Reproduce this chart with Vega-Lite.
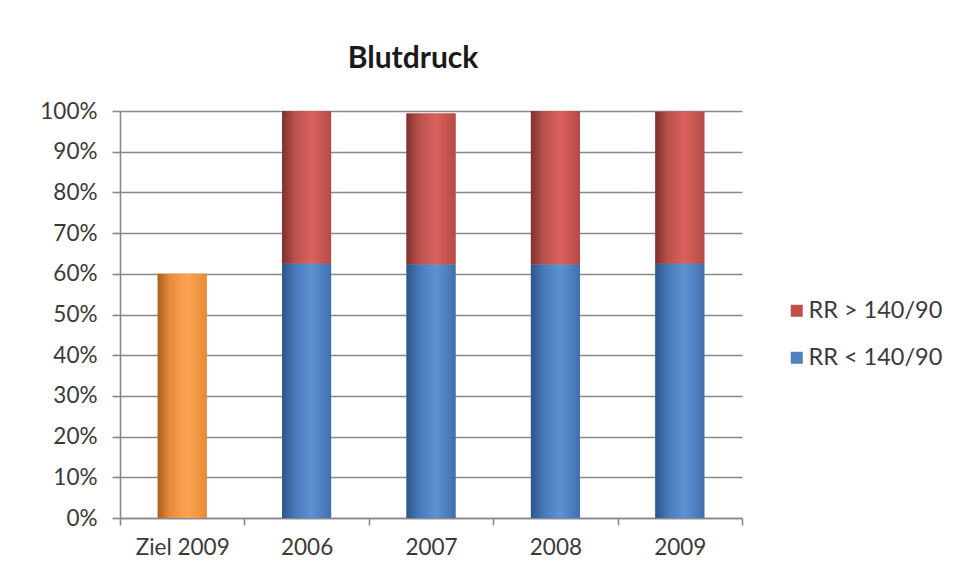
{
  "$schema": "https://vega.github.io/schema/vega-lite/v6.json",
  "width": 622,
  "height": 407,
  "autosize": {"type": "none"},
  "padding": {"left": 120, "top": 111, "right": 214, "bottom": 65},
  "background": "white",
  "title": {
    "text": "Blutdruck",
    "font": "Lato",
    "fontSize": 30,
    "fontWeight": "bold",
    "color": "#1a1a1a",
    "anchor": "middle",
    "frame": "group",
    "dx": -18,
    "offset": 26
  },
  "data": {
    "values": [
      {"cat": "Ziel 2009", "series": "Ziel", "value": 0.60, "ord": 0},
      {"cat": "2006", "series": "RR < 140/90", "value": 0.625, "ord": 1},
      {"cat": "2006", "series": "RR > 140/90", "value": 0.375, "ord": 2},
      {"cat": "2007", "series": "RR < 140/90", "value": 0.623, "ord": 1},
      {"cat": "2007", "series": "RR > 140/90", "value": 0.371, "ord": 2},
      {"cat": "2008", "series": "RR < 140/90", "value": 0.623, "ord": 1},
      {"cat": "2008", "series": "RR > 140/90", "value": 0.377, "ord": 2},
      {"cat": "2009", "series": "RR < 140/90", "value": 0.625, "ord": 1},
      {"cat": "2009", "series": "RR > 140/90", "value": 0.373, "ord": 2}
    ]
  },
  "transform": [
    {"stack": "value", "groupby": ["cat"], "sort": [{"field": "ord", "order": "ascending"}], "as": ["v0", "v1"]}
  ],
  "encoding": {
    "x": {
      "field": "cat",
      "type": "nominal",
      "sort": ["Ziel 2009", "2006", "2007", "2008", "2009"],
      "scale": {"paddingInner": 0, "paddingOuter": 0},
      "axis": {
        "title": null,
        "labelAngle": 0,
        "tickBand": "extent",
        "tickSize": 7,
        "labelPadding": 11,
        "grid": false
      }
    },
    "y": {
      "field": "v0",
      "type": "quantitative",
      "scale": {"domain": [0, 1], "nice": false},
      "axis": {
        "title": null,
        "format": ".0%",
        "values": [0, 0.1, 0.2, 0.3, 0.4, 0.5, 0.6, 0.7, 0.8, 0.9, 1],
        "tickSize": 8,
        "labelPadding": 15,
        "grid": true
      }
    },
    "y2": {"field": "v1"}
  },
  "layer": [
    {
      "mark": {"type": "bar", "width": {"band": 0.394}},
      "encoding": {
        "color": {
          "field": "series",
          "type": "nominal",
          "scale": {
            "domain": ["RR > 140/90", "RR < 140/90", "Ziel"],
            "range": ["#C0504D", "#4F81BD", "#F79646"]
          },
          "legend": {
            "title": null,
            "values": ["RR > 140/90", "RR < 140/90"],
            "orient": "none",
            "legendX": 665,
            "legendY": 188,
            "symbolType": "square",
            "symbolSize": 144,
            "symbolStrokeWidth": 0,
            "labelFont": "Lato",
            "labelFontSize": 23.5,
            "labelColor": "#3a3a3a",
            "rowPadding": 22,
            "labelOffset": 0
          }
        }
      }
    },
    {
      "transform": [{"filter": "datum.series == 'RR > 140/90'"}],
      "mark": {
        "type": "bar",
        "width": {"band": 0.394},
        "color": {"gradient": "linear", "x1": 0, "y1": 0, "x2": 1, "y2": 0, "stops": [
          {"offset": 0, "color": "#7e302d"},
          {"offset": 0.25, "color": "#b8504c"},
          {"offset": 0.6, "color": "#dc625d"},
          {"offset": 1, "color": "#b54a46"}
        ]}
      }
    },
    {
      "transform": [{"filter": "datum.series == 'RR < 140/90'"}],
      "mark": {
        "type": "bar",
        "width": {"band": 0.394},
        "color": {"gradient": "linear", "x1": 0, "y1": 0, "x2": 1, "y2": 0, "stops": [
          {"offset": 0, "color": "#2c5588"},
          {"offset": 0.25, "color": "#4878b8"},
          {"offset": 0.6, "color": "#5d92d4"},
          {"offset": 1, "color": "#416fad"}
        ]}
      }
    },
    {
      "transform": [{"filter": "datum.series == 'Ziel'"}],
      "mark": {
        "type": "bar",
        "width": {"band": 0.394},
        "color": {"gradient": "linear", "x1": 0, "y1": 0, "x2": 1, "y2": 0, "stops": [
          {"offset": 0, "color": "#a8601f"},
          {"offset": 0.25, "color": "#e98b3c"},
          {"offset": 0.6, "color": "#fca453"},
          {"offset": 1, "color": "#e68a3a"}
        ]}
      }
    }
  ],
  "config": {
    "view": {"stroke": null},
    "axis": {
      "labelFont": "Lato",
      "labelFontSize": 22.5,
      "labelColor": "#3a3a3a",
      "domainColor": "#888888",
      "domainWidth": 1.6,
      "tickColor": "#888888",
      "tickWidth": 1.6,
      "gridColor": "#888888",
      "gridWidth": 1.6
    }
  }
}
